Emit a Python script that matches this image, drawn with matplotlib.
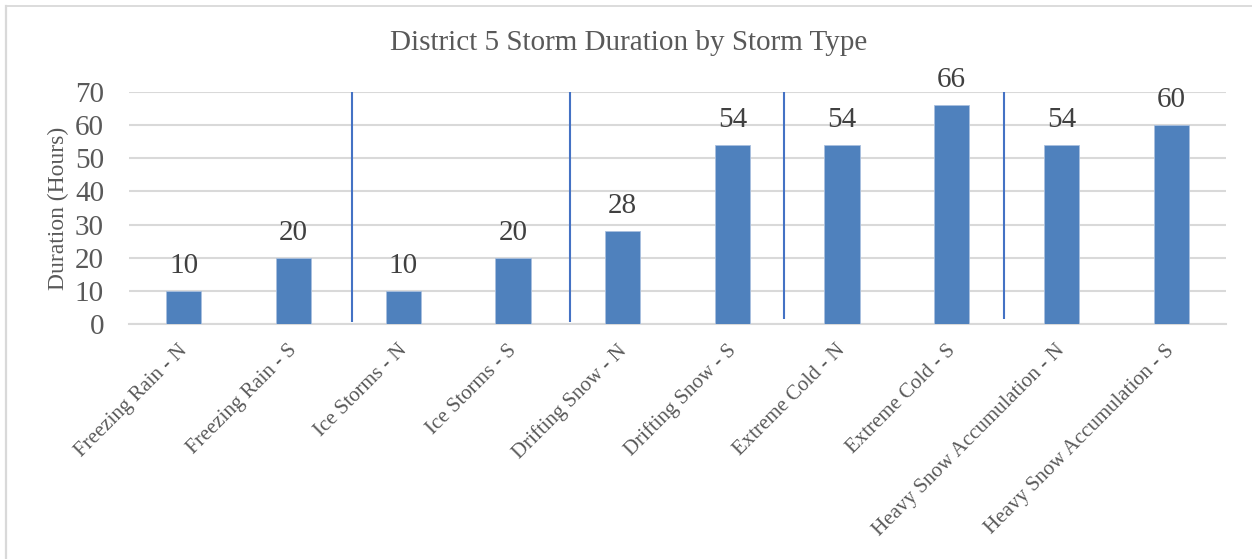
import numpy as np
import matplotlib.pyplot as plt
from matplotlib.lines import Line2D
from matplotlib.transforms import ScaledTranslation

plt.rcParams['font.family'] = ['Liberation Serif', 'DejaVu Serif']

storm_types = ['Freezing Rain - N', 'Freezing Rain - S', 'Ice Storms - N', 'Ice Storms - S',
               'Drifting Snow - N', 'Drifting Snow - S', 'Extreme Cold - N', 'Extreme Cold - S',
               'Heavy Snow Accumulation - N', 'Heavy Snow Accumulation - S']
duration = [10, 20, 10, 20, 28, 54, 54, 66, 54, 60]

# separators between storm groups: (x, bottom, top)
dividers = [(1.53, 0.8, 70), (3.52, 0.8, 70), (5.47, 1.5, 70.5), (7.48, 1.5, 70.5)]

bar_color = '#4F81BD'
grid_color = '#D9D9D9'
text_gray = '#595959'

fig = plt.figure(figsize=(12.52, 5.59), dpi=100)
ax = fig.add_axes([129 / 1252, 1 - 324.3 / 559, 1097 / 1252, 232.6 / 559])

x = np.arange(len(storm_types))
bars = ax.bar(x, duration, width=0.32, color=bar_color, edgecolor='#A9C0DF', linewidth=0.6, zorder=3)
for xi, v in zip(x, duration):
    ax.annotate(str(v), (xi, v), xytext=(0, 18), textcoords='offset pixels',
                ha='center', va='baseline', fontsize=21, color='#404040')

for xd, y0, y1 in dividers:
    ax.vlines(xd, y0, y1, color='#4472C4', linewidth=1.5, zorder=4)

ax.set_xlim(-0.5, len(storm_types) - 0.5)
ax.set_ylim(0, 70)
ax.set_yticks(range(0, 71, 10))
ax.yaxis.grid(True, color=grid_color, linewidth=1.5, zorder=0)
ax.set_axisbelow(True)
for s in ['top', 'right', 'left']:
    ax.spines[s].set_visible(False)
ax.spines['bottom'].set_color(grid_color)
ax.spines['bottom'].set_linewidth(1.5)
ax.tick_params(axis='both', length=0)
ax.tick_params(axis='y', labelsize=21, labelcolor=text_gray, pad=18)
ax.set_xticks(x)
ax.set_xticklabels(storm_types, rotation=45, ha='right', rotation_mode='anchor',
                   fontsize=15, color=text_gray)
ax.tick_params(axis='x', pad=12)
# nudge the slanted labels a little to the left
shift = ScaledTranslation(-6 / 100, 0, fig.dpi_scale_trans)
for lbl in ax.get_xticklabels():
    lbl.set_transform(lbl.get_transform() + shift)
ax.set_ylabel('Duration (Hours)', fontsize=17, color=text_gray, labelpad=4)

fig.text(629 / 1252, 1 - 43 / 559, 'District 5 Storm Duration by Storm Type',
         ha='center', va='center', fontsize=21, color=text_gray)

# chart frame edges
fig.add_artist(Line2D([5.5 / 1252, 5.5 / 1252], [0, 1 - 5.5 / 559], transform=fig.transFigure,
                      color=grid_color, linewidth=1.6))
fig.add_artist(Line2D([5.5 / 1252, 1], [1 - 5.5 / 559, 1 - 5.5 / 559], transform=fig.transFigure,
                      color=grid_color, linewidth=1.3))

fig.savefig('out.png', dpi=100)
